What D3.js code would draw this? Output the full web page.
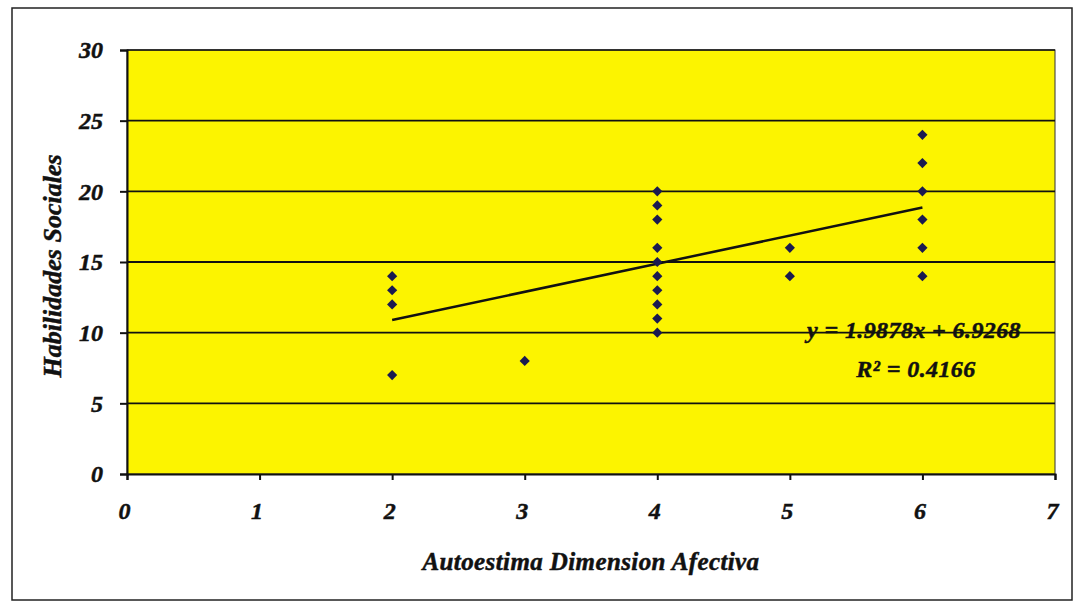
<!DOCTYPE html>
<html><head><meta charset="utf-8">
<script src="https://cdn.jsdelivr.net/npm/d3@7"></script>
<style>html,body{margin:0;padding:0;background:#fff;}svg{display:block;}</style>
</head><body>
<svg id="chart" width="1075" height="604"></svg>
<script>
const xValues = [2,2,2,2,3,4,4,4,4,4,4,4,4,4,4,5,5,6,6,6,6,6,6];
const yValues = [14,13,12,7,8,20,19,18,16,15,14,13,12,11,10,16,14,24,22,20,18,16,14];
const xTicks = [0,1,2,3,4,5,6,7];
const yTicks = [0,5,10,15,20,25,30];
const trendCoef = [1.9878, 6.9268];   // slope, intercept
const trendRange = [2, 6];
const equationLines = ["y = 1.9878x + 6.9268", "R² = 0.4166"];
const xTitle = "Autoestima Dimension Afectiva";
const yTitle = "Habilidades Sociales";

const svg = d3.select("#chart");
const m = {left:127, top:50, right:1055, bottom:474};
const x = d3.scaleLinear().domain([0,7]).range([m.left, m.right]);
const y = d3.scaleLinear().domain([0,30]).range([m.bottom, m.top]);
const font = "'Liberation Serif','Times New Roman',serif";
const heavy = sel => sel.attr("font-family",font).attr("font-weight","bold").attr("font-style","italic")
  .attr("fill","#111").attr("stroke","#111").attr("stroke-width",0.5);

// outer border
svg.append("rect").attr("x",12).attr("y",8).attr("width",1060).attr("height",592)
  .attr("fill","#fff").attr("stroke","#222").attr("stroke-width",1.5);

// plot area
svg.append("rect").attr("x",m.left).attr("y",m.top).attr("width",m.right-m.left).attr("height",m.bottom-m.top)
  .attr("fill","#fcf400").attr("stroke","#333").attr("stroke-width",1);

// gridlines
svg.append("g").selectAll("line").data(yTicks.filter(d=>d>0)).join("line")
  .attr("x1",m.left).attr("x2",m.right).attr("y1",d=>y(d)).attr("y2",d=>y(d))
  .attr("stroke","#111").attr("stroke-width",d=>d===30?1.5:1.8);

// axes
const yAxis = svg.append("g").attr("transform",`translate(${m.left},0)`)
  .call(d3.axisLeft(y).tickValues(yTicks).tickFormat(d3.format("d")).tickSize(7).tickPadding(17));
const xAxis = svg.append("g").attr("transform",`translate(0,${m.bottom})`)
  .call(d3.axisBottom(x).tickValues(xTicks).tickFormat(d3.format("d")).tickSize(6));
[yAxis,xAxis].forEach(g=>{
  g.select(".domain").attr("stroke","#111").attr("stroke-width",2);
  g.selectAll(".tick line").attr("stroke","#111").attr("stroke-width",2);
  g.selectAll(".tick text").call(heavy).attr("font-size",24);
});
xAxis.selectAll(".tick text").attr("y",45).attr("dy",0).attr("dx",-3);

// trendline
const tl = d3.line().x(d=>x(d)).y(d=>y(trendCoef[0]*d+trendCoef[1]));
svg.append("path").datum(trendRange).attr("d",tl).attr("fill","none")
  .attr("stroke","#111").attr("stroke-width",2.5);

// points
const pts = xValues.map((v,i)=>({x:v,y:yValues[i]}));
svg.append("g").selectAll("path").data(pts).join("path")
  .attr("d",d3.symbol(d3.symbolSquare,52)())
  .attr("transform",d=>`translate(${x(d.x)},${y(d.y)}) rotate(45)`)
  .attr("fill","#1a1a50");

// equation
const eq = [[914,338],[916,377]];
equationLines.forEach((t,i)=>{
  svg.append("text").attr("x",eq[i][0]).attr("y",eq[i][1]).attr("text-anchor","middle")
    .call(heavy).attr("font-size",24).attr("letter-spacing",0.4).text(t);
});

// axis titles
svg.append("text").attr("x",591).attr("y",570).attr("text-anchor","middle")
  .call(heavy).attr("font-size",25).attr("letter-spacing",0.4).text(xTitle);
svg.append("text").attr("transform","translate(61,266) rotate(-90)").attr("text-anchor","middle")
  .call(heavy).attr("font-size",26).text(yTitle);
</script>
</body></html>
